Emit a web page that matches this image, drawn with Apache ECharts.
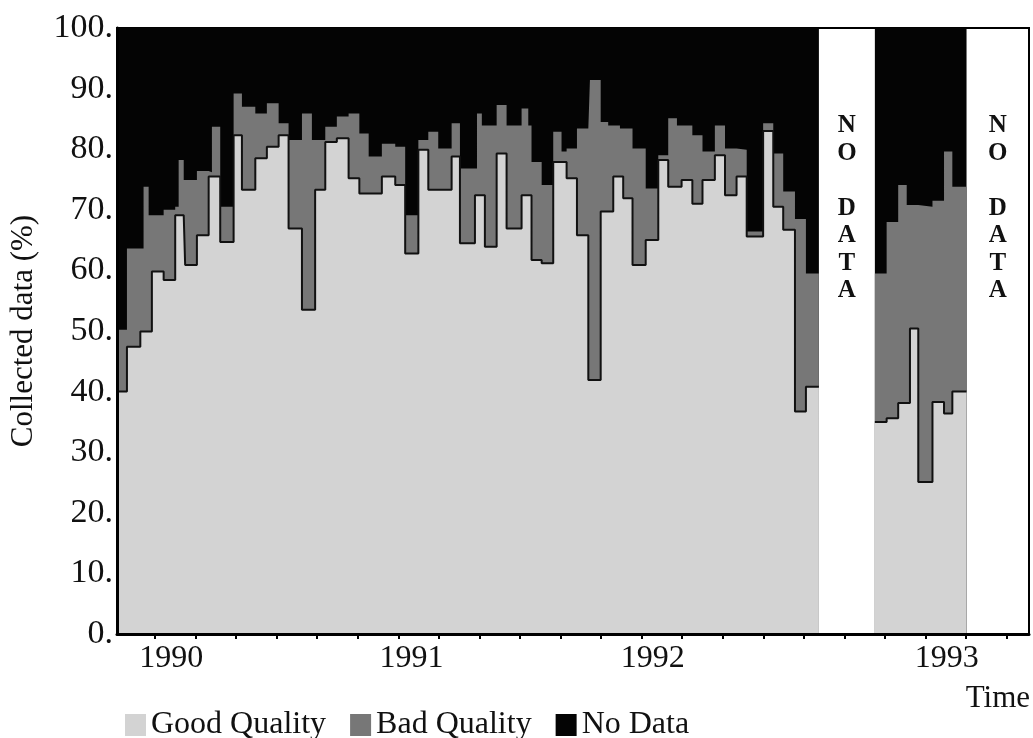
<!DOCTYPE html>
<html>
<head>
<meta charset="utf-8">
<title>Collected data</title>
<script src="https://cdn.jsdelivr.net/npm/echarts@6/dist/echarts.min.js"></script>
<style>
  html, body { margin: 0; padding: 0; background: #fff; }
  #chart { width: 1033px; height: 738px; }
</style>
</head>
<body>
<div id="chart"></div>
<script>
// Sampling periods, in months counted from January 1990 (each value is the start
// of a period; a null row closes a recording campaign).
const periodStart = [
  -1.87, -1.38, -0.72, -0.56, -0.31, -0.15, 0.43, 1.00, 1.17, 1.42,
  1.49, 2.07, 2.65, 2.81, 3.22, 3.88, 4.29, 4.95, 5.52, 6.10,
  6.59, 7.25, 7.74, 7.90, 8.40, 8.97, 9.55, 10.08, 10.54, 11.19,
  11.85, 12.34, 12.99, 13.48, 13.97, 14.63, 15.04, 15.78, 15.88, 16.12,
  16.27, 16.85, 17.34, 18.08, 18.41, 18.57, 19.07, 19.64, 20.05, 20.30,
  20.81, 21.37, 21.45, 21.98, 22.35, 22.60, 22.93, 23.09, 23.55, 24.20,
  24.82, 25.31, 25.74, 25.97, 26.50, 27.00, 27.61, 28.11, 28.68, 29.18,
  29.99, 30.49, 30.98, 31.56, 32.10, 32.74,
  35.50, 36.08, 36.65, 37.07, 37.23, 37.64, 38.34, 38.91, 39.32, 40.02
];

// Share of the collected data (%) in each period
const goodQuality = [
  40.0, 47.4, 49.9, 49.9, 49.9, 59.8, 58.4, 69.1, 69.1, 69.1,
  60.9, 65.8, 75.5, 75.5, 64.7, 82.3, 73.3, 78.5, 80.4, 82.3,
  66.9, 53.5, 53.5, 73.3, 81.2, 81.8, 75.2, 72.7, 72.7, 75.5,
  74.1, 62.8, 79.9, 73.3, 73.3, 78.8, 64.5, 72.4, 72.4, 72.4,
  63.9, 79.3, 66.9, 72.4, 72.4, 61.7, 61.2, 77.9, 77.9, 75.2,
  65.8, 41.9, 41.9, 69.7, 69.7, 75.5, 75.5, 71.9, 60.9, 65.0,
  78.2, 73.8, 73.8, 74.9, 71.0, 74.9, 79.0, 72.4, 75.5, 65.6,
  83.0, 70.5, 66.7, 36.7, 40.8, null,
  35.0, 35.6, 38.1, 38.1, 50.4, 25.1, 38.3, 36.4, 40.0, null
];
const badQuality = [
  10.2, 16.2, 13.7, 23.9, 19.2, 9.3, 11.6, 1.4, 9.1, 5.8,
  14.0, 10.6, 0.7, 8.2, 5.8, 6.9, 13.7, 7.4, 7.2, 2.0,
  14.6, 32.4, 28.0, 8.2, 2.5, 3.6, 10.7, 9.9, 6.1, 5.4,
  6.3, 6.3, 1.6, 9.6, 6.8, 5.5, 12.3, 4.4, 13.5, 11.5,
  20.0, 8.0, 17.0, 14.3, 11.5, 16.2, 12.9, 5.0, 1.7, 4.9,
  17.6, 41.5, 49.5, 14.8, 14.2, 8.4, 7.9, 11.5, 19.2, 8.5,
  0.8, 11.3, 10.1, 9.0, 11.3, 4.7, 4.9, 7.7, 4.4, 0.8,
  1.3, 8.8, 6.3, 31.8, 18.7, null,
  24.5, 32.4, 36.0, 32.7, 20.4, 45.4, 33.2, 43.2, 33.8, null
];
const noData = [
  49.8, 36.4, 36.4, 26.2, 30.9, 30.9, 30.0, 29.5, 21.8, 25.1,
  25.1, 23.6, 23.8, 16.3, 29.5, 10.8, 13.0, 14.1, 12.4, 15.7,
  18.5, 14.1, 18.5, 18.5, 16.3, 14.6, 14.1, 17.4, 21.2, 19.1,
  19.6, 30.9, 18.5, 17.1, 19.9, 15.7, 23.2, 23.2, 14.1, 16.1,
  16.1, 12.7, 16.1, 13.3, 16.1, 22.1, 25.9, 17.1, 20.4, 19.9,
  16.6, 16.6, 8.6, 15.5, 16.1, 16.1, 16.6, 16.6, 19.9, 26.5,
  21.0, 14.9, 16.1, 16.1, 17.7, 20.4, 16.1, 19.9, 20.1, 33.6,
  15.7, 20.7, 27.0, 31.5, 40.5, null,
  40.5, 32.0, 25.9, 29.2, 29.2, 29.5, 28.5, 20.4, 26.2, null
];

// Periods without any recording
const gapSpans = [[32.74, 35.50], [40.02, 43.10]];

// Year labels along the time axis (position in months from January 1990)
const yearLabels = ['1990', '1991', '1992', '1993'];
const yearLabelAt = [0.8, 12.65, 24.55, 39.05];

const X_MIN = -1.87, X_MAX = 43.10;
const SERIF = '"Liberation Serif", "Times New Roman", serif';

// Step points for the top edge of a band made of the given layers stacked
// from 0; each campaign's last period is closed at the time of its null row.
function bandTop(layers) {
  const pts = [];
  let prev = null;
  for (let i = 0; i < periodStart.length; i++) {
    const missing = layers.some(arr => arr[i] == null);
    if (missing) {
      if (prev != null) pts.push([periodStart[i], prev]);
      pts.push([periodStart[i], null]);
      prev = null;
    } else {
      const top = layers.reduce((s, arr) => s + arr[i], 0);
      pts.push([periodStart[i], top]);
      prev = top;
    }
  }
  return pts;
}

const tickAt = [];
for (let m = 0; m <= 42; m += 2) tickAt.push(m);

const colors = { good: '#d3d3d3', bad: '#777777', none: '#040404' };

const chart = echarts.init(document.getElementById('chart'));
chart.setOption({
  animation: false,
  grid: {
    left: 117, right: 4, top: 28, bottom: 104,
    show: true, borderColor: '#000', borderWidth: 2
  },
  xAxis: {
    type: 'value', min: X_MIN, max: X_MAX, z: 10,
    axisLine: { show: true, onZero: false, lineStyle: { color: '#000', width: 3 } },
    axisTick: { show: true, customValues: tickAt, length: 5, lineStyle: { color: '#000', width: 2 } },
    axisLabel: {
      customValues: yearLabelAt,
      formatter: function (v) {
        let best = 0;
        for (let i = 1; i < yearLabelAt.length; i++) {
          if (Math.abs(yearLabelAt[i] - v) < Math.abs(yearLabelAt[best] - v)) best = i;
        }
        return yearLabels[best];
      },
      fontFamily: SERIF, fontSize: 32, color: '#111', margin: 9
    },
    splitLine: { show: false },
    name: 'Time', nameLocation: 'end', nameGap: 1,
    nameTextStyle: {
      fontFamily: SERIF, fontSize: 31, color: '#111',
      align: 'right', verticalAlign: 'top', padding: [49, 0, 0, 0]
    }
  },
  yAxis: {
    type: 'value', min: 0, max: 100, interval: 10, z: 10,
    axisLine: { show: true, onZero: false, lineStyle: { color: '#000', width: 3 } },
    axisTick: { show: false },
    axisLabel: { formatter: '{value}.', fontFamily: SERIF, fontSize: 34, color: '#111', margin: 4 },
    splitLine: { show: false },
    name: 'Collected data (%)', nameLocation: 'middle', nameGap: 78,
    nameTextStyle: { fontFamily: SERIF, fontSize: 31, color: '#111' }
  },
  legend: {
    left: 120, top: 704,
    icon: 'rect', itemWidth: 21, itemHeight: 22, itemGap: 24,
    itemStyle: { borderWidth: 0 },
    textStyle: { fontFamily: SERIF, fontSize: 32, color: '#111' },
    data: [
      { name: 'Good Quality', itemStyle: { color: colors.good } },
      { name: 'Bad Quality', itemStyle: { color: colors.bad } },
      { name: 'No Data', itemStyle: { color: colors.none } }
    ]
  },
  series: [
    {
      // drawn first: full column, the black part left visible is the "no data" share
      name: 'No Data', type: 'line', step: 'end',
      data: bandTop([goodQuality, badQuality, noData]), showSymbol: false, z: 2,
      itemStyle: { color: colors.none },
      lineStyle: { width: 0 },
      areaStyle: { color: colors.none, opacity: 1, origin: 'start' },
      markArea: {
        silent: true,
        itemStyle: { color: 'rgba(255,255,255,0)' },
        label: {
          show: true,
          position: ['50%', 84],
          align: 'center', verticalAlign: 'top',
          formatter: 'N\nO\n\nD\nA\nT\nA',
          fontFamily: SERIF, fontWeight: 'bold', fontSize: 25, lineHeight: 27.5,
          color: '#111'
        },
        data: gapSpans.map(s => [{ xAxis: s[0] }, { xAxis: s[1] }])
      }
    },
    {
      name: 'Bad Quality', type: 'line', step: 'end',
      data: bandTop([goodQuality, badQuality]), showSymbol: false, z: 3,
      itemStyle: { color: colors.bad },
      lineStyle: { width: 0 },
      areaStyle: { color: colors.bad, opacity: 1, origin: 'start' }
    },
    {
      name: 'Good Quality', type: 'line', step: 'end',
      data: bandTop([goodQuality]), showSymbol: false, z: 4,
      itemStyle: { color: colors.good },
      lineStyle: { color: '#111', width: 2 },
      areaStyle: { color: colors.good, opacity: 1, origin: 'start' }
    }
  ]
});
</script>
</body>
</html>
